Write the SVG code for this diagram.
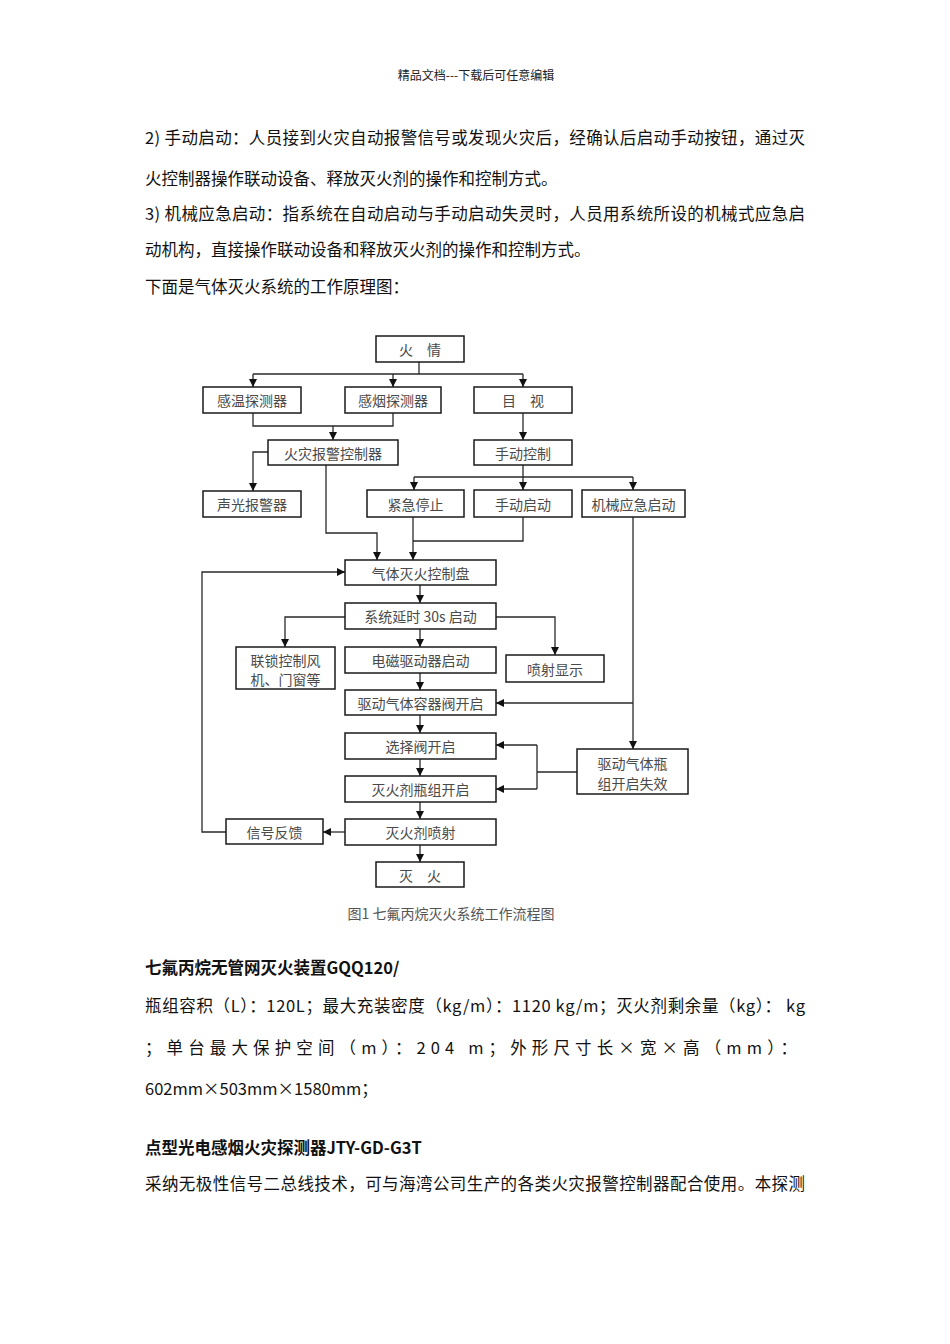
<svg xmlns="http://www.w3.org/2000/svg" width="950" height="1344" viewBox="0 0 950 1344">
<style>
.bg{fill:#fff}
.box{fill:#fff;stroke:#1a1a1a;stroke-width:1.5}
.bt{font-family:"Noto Sans CJK SC","Liberation Sans",sans-serif;font-size:14px;fill:#4a4a4a;text-anchor:middle;dominant-baseline:central}
.ln{fill:none;stroke:#2a2a2a;stroke-width:1.3}
.body{font-family:"Noto Sans CJK SC","Liberation Sans",sans-serif;font-size:16.5px;fill:#111;dominant-baseline:central}
.hd{font-family:"Noto Sans CJK SC","Liberation Sans",sans-serif;font-size:12px;fill:#222;text-anchor:middle;dominant-baseline:central}
.bold{font-weight:bold}
.cap{font-family:"Noto Sans CJK SC","Liberation Sans",sans-serif;font-size:14px;fill:#555;text-anchor:middle;dominant-baseline:central}
</style>
<defs>
<marker id="ah" viewBox="0 0 10 10" refX="10" refY="5" markerWidth="8" markerHeight="8" markerUnits="userSpaceOnUse" orient="auto">
<path d="M0,0 L10,5 L0,10 z" fill="#111"/>
</marker>
</defs>
<rect class="bg" x="0" y="0" width="950" height="1344"/>

<text class="hd" x="476" y="74">精品文档---下载后可任意编辑</text>

<g id="text-top">
<text class="body" x="145" y="137" textLength="660" lengthAdjust="spacing">2) 手动启动：人员接到火灾自动报警信号或发现火灾后，经确认后启动手动按钮，通过灭</text>
<text class="body" x="145" y="178">火控制器操作联动设备、释放灭火剂的操作和控制方式。</text>
<text class="body" x="145" y="213" textLength="660" lengthAdjust="spacing">3) 机械应急启动：指系统在自动启动与手动启动失灵时，人员用系统所设的机械式应急启</text>
<text class="body" x="145" y="249">动机构，直接操作联动设备和释放灭火剂的操作和控制方式。</text>
<text class="body" x="145" y="286">下面是气体灭火系统的工作原理图：</text>
</g>

<g id="connectors">
<path class="ln" d="M419,362 V374 M253,374 H523"/>
<path class="ln" d="M253,374 V387" marker-end="url(#ah)"/>
<path class="ln" d="M393,374 V387" marker-end="url(#ah)"/>
<path class="ln" d="M523,374 V387" marker-end="url(#ah)"/>
<path class="ln" d="M253,413 V426 H393 V413"/>
<path class="ln" d="M333,426 V440" marker-end="url(#ah)"/>
<path class="ln" d="M268,452 H253 V491" marker-end="url(#ah)"/>
<path class="ln" d="M523,413 V440" marker-end="url(#ah)"/>
<path class="ln" d="M523,465 V477 M414,477 H633"/>
<path class="ln" d="M414,477 V490" marker-end="url(#ah)"/>
<path class="ln" d="M523,477 V490" marker-end="url(#ah)"/>
<path class="ln" d="M633,477 V490" marker-end="url(#ah)"/>
<path class="ln" d="M326,465 V533 H377 V560" marker-end="url(#ah)"/>
<path class="ln" d="M523,517 V541 H413"/>
<path class="ln" d="M413,517 V560" marker-end="url(#ah)"/>
<path class="ln" d="M413,560 V581"/>
<path class="ln" d="M633,517 V749" marker-end="url(#ah)"/>
<path class="ln" d="M633,703 H496" marker-end="url(#ah)"/>
<path class="ln" d="M420,585 V603" marker-end="url(#ah)"/>
<path class="ln" d="M345,617 H285 V647" marker-end="url(#ah)"/>
<path class="ln" d="M420,629 V647" marker-end="url(#ah)"/>
<path class="ln" d="M496,617 H555 V655" marker-end="url(#ah)"/>
<path class="ln" d="M420,673 V690" marker-end="url(#ah)"/>
<path class="ln" d="M420,715 V733" marker-end="url(#ah)"/>
<path class="ln" d="M420,759 V776" marker-end="url(#ah)"/>
<path class="ln" d="M420,802 V819" marker-end="url(#ah)"/>
<path class="ln" d="M420,845 V862" marker-end="url(#ah)"/>
<path class="ln" d="M577,772 H537 M537,745 V789"/>
<path class="ln" d="M537,745 H496" marker-end="url(#ah)"/>
<path class="ln" d="M537,789 H496" marker-end="url(#ah)"/>
<path class="ln" d="M345,832 H323" marker-end="url(#ah)"/>
<path class="ln" d="M226,832 H202 V572 H345" marker-end="url(#ah)"/>
</g>

<g id="n-huoqing"><rect class="box" x="376" y="336" width="88" height="26"/><text class="bt" x="420" y="349">火　情</text></g>
<g id="n-ganwen"><rect class="box" x="203" y="387" width="98" height="26"/><text class="bt" x="252" y="400">感温探测器</text></g>
<g id="n-ganyan"><rect class="box" x="345" y="387" width="96" height="26"/><text class="bt" x="393" y="400">感烟探测器</text></g>
<g id="n-mushi"><rect class="box" x="474" y="387" width="98" height="26"/><text class="bt" x="523" y="400">目　视</text></g>
<g id="n-baojing"><rect class="box" x="268" y="440" width="130" height="25"/><text class="bt" x="333" y="452.5">火灾报警控制器</text></g>
<g id="n-shoudongkongzhi"><rect class="box" x="474" y="440" width="98" height="25"/><text class="bt" x="523" y="452.5">手动控制</text></g>
<g id="n-shengguang"><rect class="box" x="203" y="491" width="98" height="26"/><text class="bt" x="252" y="504">声光报警器</text></g>
<g id="n-jinji"><rect class="box" x="367" y="490" width="97" height="27"/><text class="bt" x="415.5" y="503.5">紧急停止</text></g>
<g id="n-shoudongqidong"><rect class="box" x="474" y="490" width="98" height="27"/><text class="bt" x="523" y="503.5">手动启动</text></g>
<g id="n-jixie"><rect class="box" x="582" y="490" width="103" height="27"/><text class="bt" x="633.5" y="503.5">机械应急启动</text></g>
<g id="n-kongzhipan"><rect class="box" x="345" y="560" width="151" height="25"/><text class="bt" x="420.5" y="572.5">气体灭火控制盘</text></g>
<g id="n-yanshi"><rect class="box" x="345" y="603" width="151" height="26"/><text class="bt" x="420.5" y="616">系统延时 30s 启动</text></g>
<g id="n-liansuo"><rect class="box" x="236" y="647" width="99" height="42"/><text class="bt" x="285.5" y="659.5">联锁控制风</text><text class="bt" x="285.5" y="679">机、门窗等</text></g>
<g id="n-dianci"><rect class="box" x="345" y="647" width="151" height="26"/><text class="bt" x="420.5" y="660">电磁驱动器启动</text></g>
<g id="n-penshexianshi"><rect class="box" x="506" y="655" width="98" height="27"/><text class="bt" x="555" y="668.5">喷射显示</text></g>
<g id="n-rongqifa"><rect class="box" x="345" y="690" width="151" height="25"/><text class="bt" x="420.5" y="702.5">驱动气体容器阀开启</text></g>
<g id="n-xuanzefa"><rect class="box" x="345" y="733" width="151" height="26"/><text class="bt" x="420.5" y="746">选择阀开启</text></g>
<g id="n-pingzu"><rect class="box" x="345" y="776" width="151" height="26"/><text class="bt" x="420.5" y="789">灭火剂瓶组开启</text></g>
<g id="n-shixiao"><rect class="box" x="577" y="749" width="111" height="45"/><text class="bt" x="632.5" y="763">驱动气体瓶</text><text class="bt" x="632.5" y="783">组开启失效</text></g>
<g id="n-penshe"><rect class="box" x="345" y="819" width="151" height="26"/><text class="bt" x="420.5" y="832">灭火剂喷射</text></g>
<g id="n-fankui"><rect class="box" x="226" y="819" width="97" height="25"/><text class="bt" x="274.5" y="831.5">信号反馈</text></g>
<g id="n-miehuo"><rect class="box" x="376" y="862" width="88" height="25"/><text class="bt" x="420" y="874.5">灭　火</text></g>

<text class="cap" x="451" y="913">图1 七氟丙烷灭火系统工作流程图</text>

<g id="text-bottom">
<text class="body bold" x="145" y="967">七氟丙烷无管网灭火装置GQQ120/</text>
<text class="body" x="145" y="1005" textLength="660" lengthAdjust="spacing">瓶组容积（L）：120L；最大充装密度（kg/m）：1120 kg/m；灭火剂剩余量（kg）： kg</text>
<text class="body" x="145" y="1047" textLength="652" lengthAdjust="spacing">；单台最大保护空间（m）：204 m；外形尺寸长×宽×高（mm）：</text>
<text class="body" x="145" y="1088">602mm×503mm×1580mm；</text>
<text class="body bold" x="145" y="1147">点型光电感烟火灾探测器JTY-GD-G3T</text>
<text class="body" x="145" y="1183" textLength="660" lengthAdjust="spacing">采纳无极性信号二总线技术，可与海湾公司生产的各类火灾报警控制器配合使用。本探测</text>
</g>
</svg>
